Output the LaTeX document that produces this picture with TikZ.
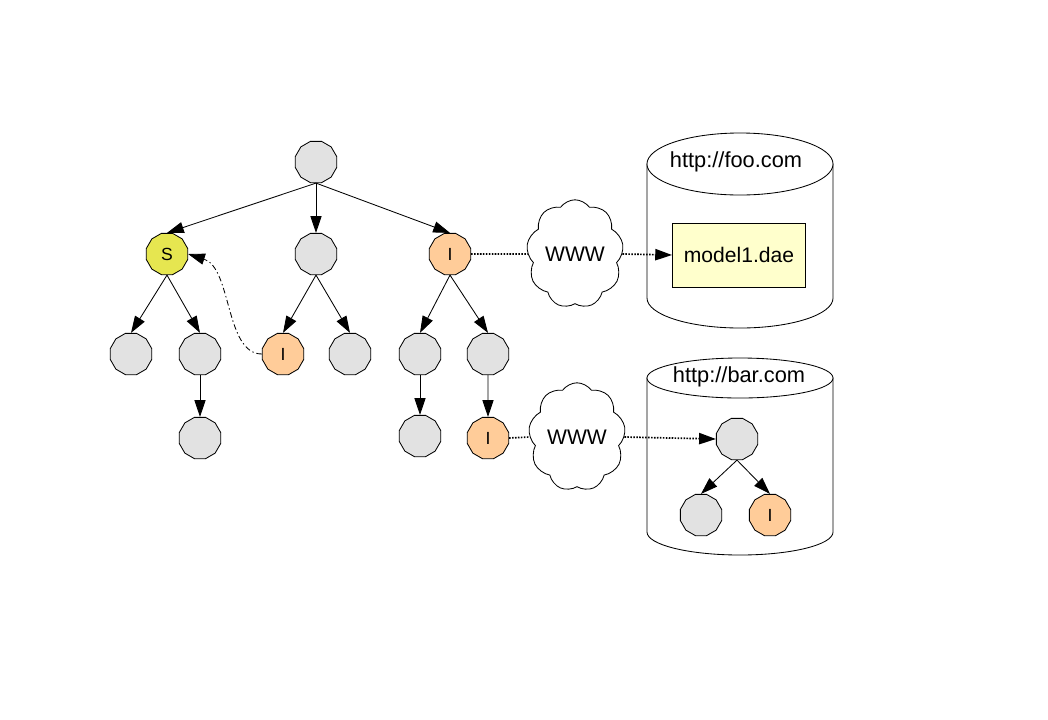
\documentclass[tikz,border=0pt]{standalone}
\usepackage{fontspec}
\setmainfont{Liberation Sans}
\usepackage{tikz}
\usetikzlibrary{arrows.meta,shapes.geometric,shapes.symbols}
\definecolor{nodegrey}{RGB}{226,226,226}
\definecolor{nodeyellow}{RGB}{230,230,80}
\definecolor{nodeorange}{RGB}{255,204,153}
\definecolor{fileyellow}{RGB}{255,255,204}
\tikzset{
  tnode/.style={draw,regular polygon,regular polygon sides=12,minimum size=1.07cm,
    inner sep=0pt,fill=nodegrey,font=\fontsize{12.5}{14}\selectfont},
  snode/.style={tnode,fill=nodeyellow},
  inode/.style={tnode,fill=nodeorange},
  www/.style={draw,cloud,cloud puffs=9,cloud puff arc=110,aspect=0.85,fill=white,
    minimum width=1.75cm,minimum height=1.95cm,inner sep=0pt,
    font=\fontsize{15}{17}\selectfont},
  filebox/.style={draw,fill=fileyellow,minimum width=3.325cm,minimum height=1.6cm,
    font=\fontsize{15}{17}\selectfont},
  hostlbl/.style={font=\fontsize{15.5}{17}\selectfont},
  link/.style={dash pattern=on 1.1pt off 1pt,line width=1.2pt},
  ref/.style={dash pattern=on 4pt off 2pt on 1pt off 2pt}
}

\begin{document}
\begin{tikzpicture}[x=0.025cm,y=-0.025cm,line width=0.6pt,
    >={Triangle[length=4.2mm,width=2.8mm]}]
  \useasboundingbox (0,0) rectangle (1048,719);

  % servers
  \draw[fill=white] (647,164) -- (647,298)
    arc[start angle=180,end angle=360,x radius=2.325cm,y radius=0.75cm]
    -- (833,164) -- cycle;
  \draw[fill=white] (740,164) ellipse[x radius=2.325cm,y radius=0.775cm];
  \node[hostlbl] (foo) at (736,162) {http://foo.com};

  \draw[fill=white] (647,378) -- (647,532)
    arc[start angle=180,end angle=360,x radius=2.325cm,y radius=0.575cm]
    -- (833,378) -- cycle;
  \draw[fill=white] (740,378) ellipse[x radius=2.325cm,y radius=0.5cm];
  \node[hostlbl] (bar) at (739,377) {http://bar.com};

  % scene graph
  \node[tnode] (root) at (316,162) {};
  \node[snode] (S) at (167,254) {S};
  \node[tnode] (mid) at (316,254) {};
  \node[inode] (I1) at (450,254) {I};
  \node[tnode] (sa) at (131,354) {};
  \node[tnode] (sb) at (200,354) {};
  \node[tnode] (sc) at (200,438) {};
  \node[inode] (I2) at (283,354) {I};
  \node[tnode] (mb) at (350,354) {};
  \node[tnode] (ia) at (420,354) {};
  \node[tnode] (ib) at (488,354) {};
  \node[tnode] (ic) at (420,436) {};
  \node[inode] (I3) at (488,438) {I};

  \node[www] (web1) at (575,254) {WWW};
  \node[www] (web2) at (577,437) {WWW};
  \node[filebox] (model) at (739,255) {model1.dae};

  \node[tnode] (broot) at (737,439) {};
  \node[tnode] (ba) at (701,515) {};
  \node[inode] (bI) at (770,515) {I};

  \draw[->] (root.south) -- (S.north);
  \draw[->] (root.south) -- (mid.north);
  \draw[->] (root.south) -- (I1.north);
  \draw[->] (S.south) -- (sa.north);
  \draw[->] (S.south) -- (sb.north);
  \draw[->] (sb.south) -- (sc.north);
  \draw[->] (mid.south) -- (I2.north);
  \draw[->] (mid.south) -- (mb.north);
  \draw[->] (I1.south) -- (ia.north);
  \draw[->] (I1.south) -- (ib.north);
  \draw[->] (ia.south) -- (ic.north);
  \draw[->] (ib.south) -- (I3.north);
  \draw[->,ref] (I2.west) .. controls (225,354) and (232,268) .. (S.east);

  \draw[link] (I1.east) -- (web1.west);
  \draw[link,->] (web1.east) -- (model.west);
  \draw[link] (I3.east) -- (web2.west);
  \draw[link,->] (web2.east) -- (broot.west);

  \draw[->] (broot.south) -- (ba.north);
  \draw[->] (broot.south) -- (bI.north);
\end{tikzpicture}
\end{document}
